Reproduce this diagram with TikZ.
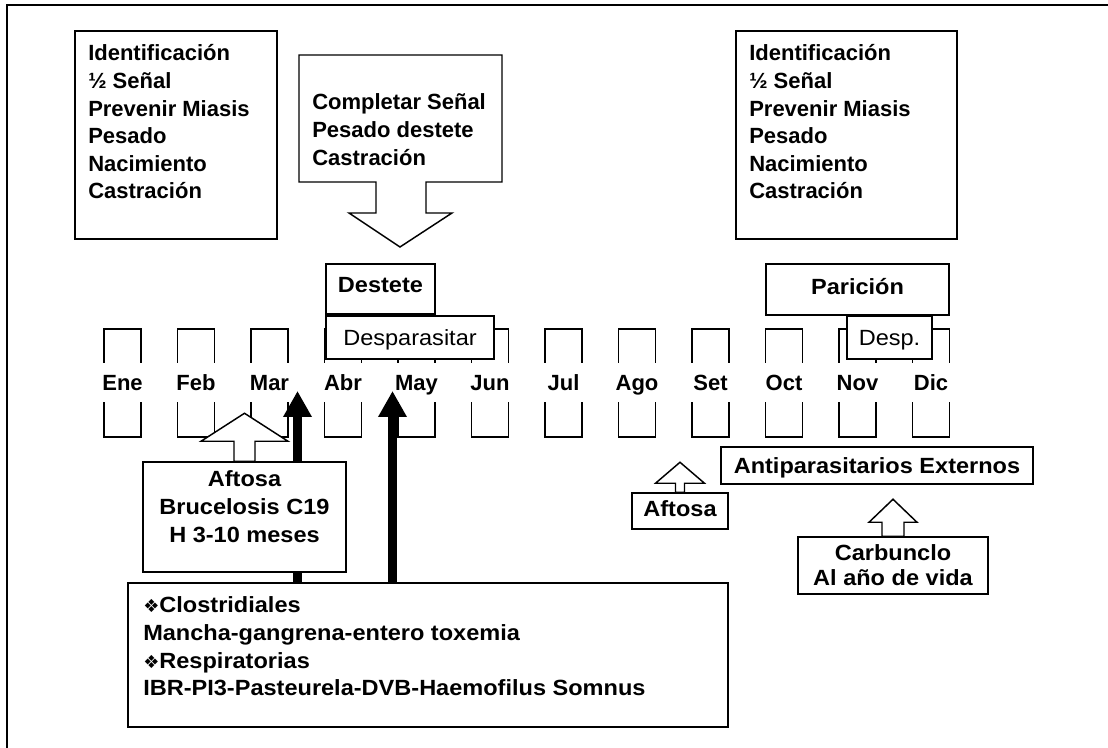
\documentclass[tikz,border=0pt]{standalone}
\usepackage{fontspec}
\setmainfont[FakeStretch=1.07]{Liberation Sans}
\newfontfamily\narrowfont{Liberation Sans}
\newfontfamily\symfont{DejaVu Sans}
\usetikzlibrary{arrows.meta,fit}

\newdimen\px
\px=0.75pt

% upward block arrow standing on a box:
% #1 base point, #2 half shaft width, #3 shaft length, #4 half head width, #5 head length
\newcommand\blockup[5]{%
  \draw[openarr] (#1) ++(-#2,0) -- ++(0,-#3) -- ++({#2-#4},0) -- ++(#4,-#5)
    -- ++(#4,#5) -- ++({#2-#4},0) -- ++(0,#3) -- cycle;}

\tikzset{
  frameline/.style={line width=1.3pt},
  box/.style={draw, fill=white, inner sep=0pt, line width=1.1pt},
  openarr/.style={draw, fill=white, line width=1.1pt, line join=miter},
  txt/.style={inner sep=0pt, font=\fontsize{16.5}{20.7}\selectfont\bfseries},
  ntxt/.style={inner sep=0pt, font=\narrowfont\fontsize{16.5}{20.7}\selectfont\bfseries},
  rtxt/.style={inner sep=0pt, font=\fontsize{16.5}{20.7}\selectfont},
  oneline/.style={text height=11.8pt, text depth=0pt},
  mbox/.style={draw, inner sep=0pt, line width=1.1pt},
  mlabel/.style={ntxt, oneline, fill=white, minimum height=29.25pt, minimum width=33pt},
  solidarr/.style={line width=6.75pt, -{Triangle[width=20.25pt,length=19.5pt]}},
}
\newcommand\bull{{\symfont\fontsize{13.5}{12}\selectfont ❖}}

\begin{document}
\begin{tikzpicture}[x=0.75pt,y=-0.75pt]
\useasboundingbox (0,0) rectangle (1108,748);

% page frame (top and left edges only)
\coordinate (fbl) at (7,748);
\coordinate (ftl) at (7,5);
\coordinate (ftr) at (1108,5);
\draw[frameline] (fbl) -- (ftl) -- (ftr);

% calving-season task lists
\node[box, fit={(75,31) (277,239)}] (tasksL) {};
\node[ntxt, anchor=base west] (tasksLt) at (88,61) {\parbox[t]{190\px}{Identificación\\½ Señal\\Prevenir Miasis\\Pesado\\Nacimiento\\Castración}};

\node[box, fit={(736,31) (957,239)}] (tasksR) {};
\node[ntxt, anchor=base west] (tasksRt) at (749,61) {\parbox[t]{200\px}{Identificación\\½ Señal\\Prevenir Miasis\\Pesado\\Nacimiento\\Castración}};

% weaning callout pointing down
\draw[openarr] (299,55) -- (502,55) -- (502,182) -- (426,182) -- (426,213)
  -- (452,213) -- (400,247) -- (349,213) -- (376,213) -- (376,182) -- (299,182) -- cycle;
\node[ntxt, anchor=base west] (wean) at (312,110) {\parbox[t]{190\px}{Completar Señal\\Pesado destete\\Castración}};

% months
\foreach \m [count=\i from 0] in {Ene,Feb,Mar,Abr,May,Jun,Jul,Ago,Set,Oct,Nov,Dic} {
  \pgfmathsetmacro\xl{104+73.5*\i}
  \node[mbox, fit={(\xl,329) ({\xl+37},437)}] (m\i) {};
}
\foreach \m [count=\i from 0] in {Ene,Feb,Mar,Abr,May,Jun,Jul,Ago,Set,Oct,Nov,Dic} {
  \node[mlabel] (lab\i) at (m\i.center) {\m};
}

% events above the months
\node[box, fit={(326,264) (435,314)}] (destete) {};
\node[txt, oneline] (destetet) at (380.5,285) {Destete};
\node[box, fit={(326,316) (494,359)}] (desp1) {};
\node[rtxt, oneline] (desp1t) at (410,337.5) {Desparasitar};

\node[box, fit={(766,264) (949,315)}] (paricion) {};
\node[txt, oneline] (pariciont) at (857.5,287) {Parición};
\node[box, fit={(847,316) (932,359)}] (desp2) {};
\node[rtxt, oneline] (desp2t) at (889.5,338) {Desp.};

% vaccination box and solid arrows
\node[box, fit={(128,583) (728,727)}] (vacc) {};
\node[txt, anchor=base west] (vacct) at (143,613) {\parbox[t]{590\px}{\bull Clostridiales\\Mancha-gangrena-entero toxemia\\\bull Respiratorias\\IBR-PI3-Pasteurela-DVB-Haemofilus Somnus}};
\coordinate (tip1) at (297.5,391);
\coordinate (tip2) at (392.5,391);
\draw[solidarr] (vacc.north -| tip1) -- (tip1);
\draw[solidarr] (vacc.north -| tip2) -- (tip2);

% aftosa / brucelosis
\node[box, fit={(143,462) (346,572)}] (aftosa1) {};
\node[txt, anchor=base] (aftosa1t) at (244.5,487) {\parbox[t]{200\px}{\centering Aftosa\\Brucelosis C19\\H 3-10 meses}};
\blockup{aftosa1.north}{10.5}{20}{43.5}{28}

% second aftosa
\node[box, fit={(632,493) (728,529)}] (aftosa2) {};
\node[txt, oneline] (aftosa2t) at (680,509) {Aftosa};
\blockup{aftosa2.north}{4.5}{9}{24.5}{21}

% external parasites
\node[box, fit={(721,447) (1033,484)}] (antip) {};
\node[txt, oneline] (antipt) at (877,466) {Antiparasitarios Externos};

% anthrax
\node[box, fit={(798,537) (988,594)}] (carb) {};
\node[txt, anchor=base] (carbt) at (893,561) {\parbox[t]{190\px}{\centering\baselineskip=18.75pt Carbunclo\\Al año de vida}};
\blockup{carb.north}{11}{14}{24}{23}

\end{tikzpicture}
\end{document}
